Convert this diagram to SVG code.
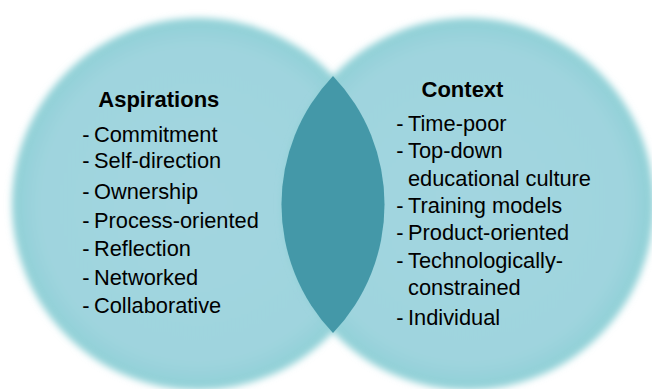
<svg xmlns="http://www.w3.org/2000/svg" width="652" height="389" viewBox="0 0 652 389">
  <defs>
    <filter id="soft" x="-10%" y="-10%" width="120%" height="120%">
      <feGaussianBlur stdDeviation="3.5"/>
    </filter>
    <radialGradient id="circFill" cx="50%" cy="50%" r="50%">
      <stop offset="0%" stop-color="#a2d5e0"/>
      <stop offset="85%" stop-color="#9fd4de"/>
      <stop offset="100%" stop-color="#8fd0d6"/>
    </radialGradient>
  </defs>
  <style>
    .circle { fill: url(#circFill); filter: url(#soft); }
    .lens { fill: #4498a8; }
    .title { font-family: "Liberation Sans", Arial, sans-serif; font-weight: bold; font-size: 22px; fill: #000; text-anchor: middle; }
    .item { font-family: "Liberation Sans", Arial, sans-serif; font-size: 21.8px; fill: #000; }
  </style>
  <rect width="652" height="389" fill="#ffffff"/>

  <g id="aspirations">
    <circle class="circle" cx="198" cy="204" r="186"/>
  </g>
  <g id="context">
    <circle class="circle" cx="468" cy="204" r="186"/>
  </g>
  <g id="overlap">
    <path class="lens" d="M333,76 A186,186 0 0 1 333,333 A186,186 0 0 1 333,76 Z"/>
  </g>

  <g id="aspirations-text">
    <text class="title" x="158.8" y="106.7">Aspirations</text>
    <text class="item"><tspan x="82.3" y="141.7">-</tspan><tspan x="94" y="141.7">Commitment</tspan></text>
    <text class="item"><tspan x="82.3" y="168.3">-</tspan><tspan x="94" y="168.3">Self-direction</tspan></text>
    <text class="item"><tspan x="82.3" y="199.3">-</tspan><tspan x="94" y="199.3">Ownership</tspan></text>
    <text class="item"><tspan x="82.3" y="228">-</tspan><tspan x="94" y="228">Process-oriented</tspan></text>
    <text class="item"><tspan x="82.3" y="256">-</tspan><tspan x="94" y="256">Reflection</tspan></text>
    <text class="item"><tspan x="82.3" y="285.3">-</tspan><tspan x="94" y="285.3">Networked</tspan></text>
    <text class="item"><tspan x="82.3" y="313">-</tspan><tspan x="94" y="313">Collaborative</tspan></text>
  </g>

  <g id="context-text">
    <text class="title" x="462.5" y="96.7">Context</text>
    <text class="item"><tspan x="396.3" y="131.3">-</tspan><tspan x="408" y="131.3">Time-poor</tspan></text>
    <text class="item"><tspan x="396.3" y="158.3">-</tspan><tspan x="408" y="158.3">Top-down</tspan></text>
    <text class="item"><tspan x="408" y="186">educational culture</tspan></text>
    <text class="item"><tspan x="396.3" y="212.8">-</tspan><tspan x="408" y="212.8">Training models</tspan></text>
    <text class="item"><tspan x="396.3" y="240.3">-</tspan><tspan x="408" y="240.3">Product-oriented</tspan></text>
    <text class="item"><tspan x="396.3" y="268.3">-</tspan><tspan x="408" y="268.3">Technologically-</tspan></text>
    <text class="item"><tspan x="408" y="295">constrained</tspan></text>
    <text class="item"><tspan x="396.3" y="324.6">-</tspan><tspan x="408" y="324.6">Individual</tspan></text>
  </g>

  <g id="connectors"/>
</svg>
